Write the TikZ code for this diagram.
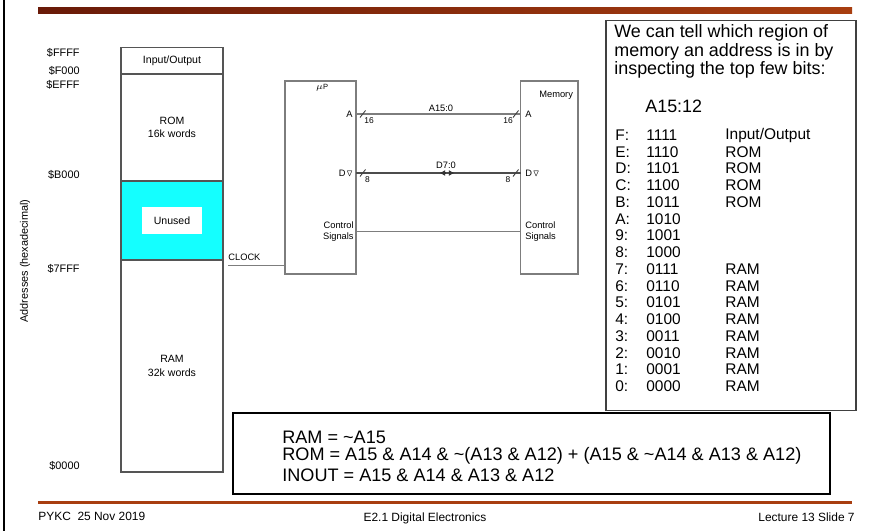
\documentclass[tikz,border=0pt]{standalone}
\usepackage{amsmath,amssymb}
\usepackage{fontspec}
\setmainfont{Liberation Sans}
\usetikzlibrary{arrows.meta,positioning,calc}
\definecolor{BarDark}{RGB}{105,26,8}
\definecolor{BarLight}{RGB}{168,62,16}
\definecolor{MapEdge}{RGB}{85,85,85}
\definecolor{WireGray}{RGB}{125,125,125}
\definecolor{UnusedCyan}{RGB}{20,255,255}
\tikzset{
  region/.style={draw=MapEdge,line width=0.7pt,outer sep=0pt,inner sep=0pt,minimum width=2.04cm,align=center,font=\fontsize{6}{7.8}\selectfont},
  addr/.style={anchor=east,inner sep=0pt,font=\fontsize{6.2}{7}\selectfont},
  chip/.style={draw=WireGray,line width=0.8pt,outer sep=0pt,inner sep=0pt,minimum height=3.86cm},
  pin/.style={inner sep=0pt,font=\fontsize{5.3}{6.4}\selectfont},
  bus/.style={draw=WireGray,line width=0.8pt},
  databus/.style={draw=black!70,line width=1.3pt},
  slashmark/.style={draw=black!75,line width=0.5pt},
  buswidth/.style={inner sep=0pt,font=\fontsize{4.8}{5}\selectfont},
  dirtip/.style={draw=black!80,line width=0.6pt,-{Latex[length=3.2pt,width=3.4pt]}},
  bigtext/.style={anchor=west,inner sep=0pt,align=left,font=\fontsize{10.2}{10.6}\selectfont},
  rowtext/.style={anchor=west,inner sep=0pt,font=\fontsize{8.8}{9.5}\selectfont},
  eqtext/.style={anchor=west,inner sep=0pt,font=\fontsize{10.3}{11}\selectfont},
  footer/.style={inner sep=0pt,font=\fontsize{6.8}{8}\selectfont}
}

\begin{document}
\begin{tikzpicture}[x=0.02cm,y=-0.02cm]
\useasboundingbox (0,0) rectangle (874,531);
\draw[line width=0.8pt] (4,0) -- (4,531);
\shade[left color=BarDark,right color=BarLight] (38,7) rectangle (852,13);
\fill[BarLight] (38,501) rectangle (852,504);

\node[region,minimum height=0.53cm] (io) at (172,60.75) {Input/Output};
\node[region,minimum height=2.14cm,below=0pt of io] (rom) {ROM\\16k words};
\node[region,fill=UnusedCyan,minimum height=1.58cm,below=0pt of rom] (unused) {};
\node[fill=white,inner sep=0pt,minimum width=1.2cm,minimum height=0.53cm,font=\fontsize{6}{7}\selectfont] (unusedlbl) at (unused) {Unused};
\node[region,minimum height=4.24cm,below=0pt of unused] (ram) {RAM\\32k words};

\node[addr] (aFFFF) at (80,52.5) {\$FFFF};
\node[addr] (aF000) at (80,71) {\$F000};
\node[addr] (aEFFF) at (80,85) {\$EFFF};
\node[addr] (aB000) at (80,175) {\$B000};
\node[addr] (a7FFF) at (80,269) {\$7FFF};
\node[addr] (a0000) at (80,466) {\$0000};
\node[rotate=90,inner sep=0pt,font=\fontsize{6.2}{7}\selectfont] (addrlbl) at (25,261) {Addresses (hexadecimal)};

\node[chip,minimum width=1.42cm] (up) at (320.5,177.5) {};
\node[chip,minimum width=1.15cm] (mem) at (549.25,177.5) {};
\node[inner sep=0pt,font=\fontsize{4.3}{5}\selectfont] (uplbl) at (322,88) {$\mu$P};
\node[pin,anchor=west] (memlbl) at (539,95) {Memory};

\node[pin,anchor=east] (upA) at (353,114) {A};
\node[pin,anchor=east] (upD) at (354,173) {D\ensuremath{\triangledown}};
\node[pin,anchor=east,align=right] (upCtl) at (354,231.5) {Control\\Signals};
\node[pin,anchor=west] (memA) at (525,114) {A};
\node[pin,anchor=west] (memD) at (525,173) {D\ensuremath{\triangledown}};
\node[pin,anchor=west,align=left] (memCtl) at (525,231.5) {Control\\Signals};

\draw[bus] (up.east |- upA) -- (mem.west |- memA);
\draw[databus] (up.east |- upD) -- (mem.west |- memD);
\draw[bus] (up.east |- upCtl) -- (mem.west |- memCtl);

\node[pin] (abuslbl) at (441,108) {A15:0};
\node[pin] (dbuslbl) at (446,165) {D7:0};
\coordinate (dmid) at (447,173);
\draw[dirtip] ($(dmid)+(-2,0)$) -- ($(dmid)+(-7.5,0)$);
\draw[dirtip] ($(dmid)+(2,0)$) -- ($(dmid)+(7.5,0)$);

\draw[slashmark] (360,117.5) -- (365.5,110.5);
\draw[slashmark] (513,117.5) -- (518.5,110.5);
\draw[slashmark] (360,176.5) -- (365.5,169.5);
\draw[slashmark] (513,176.5) -- (518.5,169.5);
\node[buswidth] (w16a) at (369,121) {16};
\node[buswidth] (w16b) at (508,121) {16};
\node[buswidth] (w8a) at (367.5,180) {8};
\node[buswidth] (w8b) at (508,180) {8};

\coordinate (clk) at (228,265.5);
\draw[bus] (clk) -- (up.west |- clk);
\node[pin,anchor=west] (clklbl) at (228,257) {CLOCK};

\node[draw=black!75,line width=0.7pt,minimum width=5cm,minimum height=7.81cm] (infobox) at (731,215.4) {};
\node[bigtext] (intro) at (614,51.5) {We can tell which region of\\memory an address is in by\\inspecting the top few bits:};
\node[bigtext] (hdr) at (645,106) {A15:12};
\foreach \h/\b/\r [count=\i from 0] in {F/1111/{Input/Output},E/1110/ROM,D/1101/ROM,C/1100/ROM,B/1011/ROM,A/1010/,9/1001/,8/1000/,7/0111/RAM,6/0110/RAM,5/0101/RAM,4/0100/RAM,3/0011/RAM,2/0010/RAM,1/0001/RAM,0/0000/RAM}{
  \node[rowtext] (h\i) at (615,135+16.75*\i) {\h:};
  \node[rowtext] (b\i) at (646,135+16.75*\i) {\b};
  \node[rowtext] (r\i) at (725,135+16.75*\i) {\r};
}

\node[draw,line width=0.7pt,minimum width=11.94cm,minimum height=1.62cm] (eqbox) at (531.5,453.5) {};
\node[eqtext] (eqram) at (282,437) {RAM = \textasciitilde A15};
\node[eqtext] (eqrom) at (282,456) {ROM = A15 \& A14 \& \textasciitilde(A13 \& A12) + (A15 \& \textasciitilde A14 \& A13 \& A12)};
\node[eqtext] (eqio) at (282,475) {INOUT = A15 \& A14 \& A13 \& A12};

\node[footer,anchor=west] (ftl) at (38,516) {PYKC\ \ 25 Nov 2019};
\node[footer] (ftc) at (425,518) {E2.1 Digital Electronics};
\node[footer,anchor=east] (ftr) at (855,517) {Lecture 13 Slide 7};
\end{tikzpicture}
\end{document}
